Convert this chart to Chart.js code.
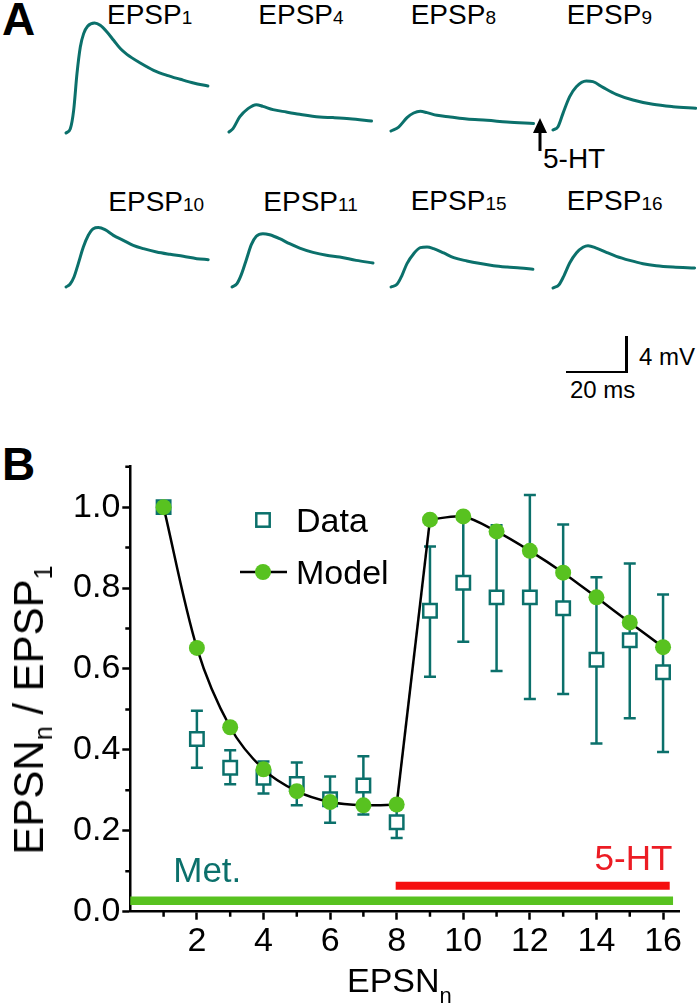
<!DOCTYPE html>
<html>
<head>
<meta charset="utf-8">
<title>EPSP depression and 5-HT</title>
<script src="https://cdn.jsdelivr.net/npm/chart.js@4.4.1/dist/chart.umd.min.js"></script>
<style>
  body { margin: 0; background: #fff; }
  #fig { position: relative; width: 698px; height: 1006px; overflow: hidden;
         font-family: "Liberation Sans", Arial, Helvetica, sans-serif; color: #000; }
  .txt { position: absolute; line-height: 1; white-space: nowrap; }
  .txt span { line-height: 0; }
  .panel { font-weight: bold; font-size: 46px; }
  .epsp { font-size: 28px; }
  .epsp span { font-size: 19px; }
  canvas { position: absolute; }
  .sbar { position: absolute; background: #000; }
</style>
</head>
<body>
<div id="fig">
  <div class="txt panel" style="left:2px;top:-4px">A</div>
  <div class="txt panel" style="left:2px;top:441px">B</div>

  <!-- 5-HT arrow -->
  <svg style="position:absolute;left:530px;top:115px" width="20" height="40">
    <polygon points="10,3 3,18 17,18" fill="#000"/>
    <line x1="10" y1="17" x2="10" y2="36" stroke="#000" stroke-width="3"/>
  </svg>
  <div class="txt" style="left:543px;top:145px;font-size:28px">5-HT</div>

  <!-- scale bar -->
  <div class="sbar" style="left:566px;top:370.5px;width:61.5px;height:2.6px"></div>
  <div class="sbar" style="left:625px;top:335.5px;width:2.6px;height:37.6px"></div>
  <div class="txt" style="left:639px;top:344.5px;font-size:24px">4 mV</div>
  <div class="txt" style="left:570px;top:377.5px;font-size:24px">20 ms</div>

  <canvas id="chartB" width="698" height="566" style="left:0;top:440px"></canvas>

  <div class="txt" style="left:347px;top:963px;font-size:34px">EPSN<span style="font-size:22px;vertical-align:-11px">n</span></div>
  <div class="txt" style="left:29px;top:710px;font-size:42px;transform:translate(-50%,-50%) rotate(-90deg)">EPSN<span style="font-size:25px;vertical-align:-9px">n</span> / EPSP<span style="font-size:25px;vertical-align:-9px">1</span></div>
</div>

<script>
// ---- panel A: EPSP traces (time in ms, amplitude in mV above baseline)
const traceNames = ['1', '4', '8', '9', '10', '11', '15', '16'];
const t_epsp1 = [0, 1.44, 2.55, 3.66, 4.77, 5.88, 7.2, 9.53, 11.4, 13.66, 15.88, 18.1, 20.3, 24.77, 29.2, 33.66, 38.1, 42.5, 47.3];
const v_epsp1 = [0, 0.48, 2.52, 6.6, 9.56, 11.04, 11.86, 12.22, 11.97, 11.22, 10.3, 9.38, 8.74, 7.78, 6.97, 6.41, 5.97, 5.56, 5.22];
const t_epsp4 = [0, 1.33, 3.56, 6.33, 9.1, 11.3, 14.66, 19.1, 23.56, 30.2, 34.66, 40.2, 47.5];
const v_epsp4 = [0, 0.37, 1.67, 2.6, 3.04, 2.85, 2.49, 2.22, 1.97, 1.67, 1.6, 1.48, 1.22];
const t_epsp8 = [0, 2.55, 5.33, 7.55, 9.77, 12, 15.33, 19.77, 25.3, 32, 38.66, 47.5];
const v_epsp8 = [0, 0.44, 1.48, 2.0, 2.19, 2.04, 1.74, 1.56, 1.33, 1.19, 1.0, 0.82];
const t_epsp9 = [0, 1.67, 3.33, 5.56, 7.78, 11.1, 13.3, 16.66, 21.1, 26.66, 33.3, 40, 47.6];
const v_epsp9 = [0, 0.37, 1.85, 3.7, 4.81, 5.44, 5.37, 4.74, 3.96, 3.33, 2.85, 2.59, 2.41];
const t_epsp10 = [0, 1.33, 2.67, 4.1, 5.78, 7.44, 9.1, 10.78, 13, 15.8, 19.1, 22.4, 25.8, 30.2, 34.7, 39.1, 43.6, 47.4];
const v_epsp10 = [0, 0.3, 1.11, 2.6, 4.44, 5.74, 6.48, 6.6, 6.37, 5.74, 5.19, 4.63, 4.26, 3.89, 3.63, 3.41, 3.15, 3.04];
const t_epsp11 = [0, 1.67, 3.1, 4.78, 6.44, 8.1, 10.3, 12.56, 15.9, 19.2, 22.56, 27, 31.5, 35.9, 41.4, 47];
const v_epsp11 = [0, 0.37, 1.37, 3.03, 4.7, 5.63, 5.93, 5.81, 5.37, 4.81, 4.33, 3.85, 3.52, 3.33, 2.96, 2.67];
const t_epsp15 = [0, 2.0, 3.67, 5.33, 7.56, 9.78, 12, 14.2, 17.56, 20.9, 25.3, 29.8, 34.2, 38.7, 43.1, 47.3];
const v_epsp15 = [0, 0.3, 1.3, 2.6, 3.7, 4.37, 4.44, 4.26, 3.78, 3.26, 2.89, 2.6, 2.37, 2.22, 2.11, 1.97];
const t_epsp16 = [0, 2.0, 3.56, 5.56, 7.78, 10, 11.67, 14.44, 17.78, 21.1, 25.56, 30, 34.4, 40, 47.2];
const v_epsp16 = [0, 0.37, 1.3, 2.78, 3.89, 4.52, 4.7, 4.44, 3.96, 3.52, 3.07, 2.7, 2.48, 2.33, 2.22];

// ---- panel B: normalised EPSP amplitude
const epsn = [1, 2, 3, 4, 5, 6, 7, 8, 9, 10, 11, 12, 13, 14, 15, 16];
const dataMean = [1.0, 0.427, 0.356, 0.331, 0.316, 0.278, 0.312, 0.221, 0.744, 0.813, 0.777, 0.777, 0.75, 0.623, 0.671, 0.592];
const dataLow  = [1.0, 0.356, 0.315, 0.292, 0.263, 0.22, 0.24, 0.182, 0.581, 0.667, 0.595, 0.526, 0.538, 0.416, 0.478, 0.395];
const dataHigh = [1.0, 0.497, 0.399, 0.371, 0.369, 0.334, 0.384, 0.26, 0.903, 0.97, 0.955, 1.03, 0.957, 0.827, 0.861, 0.784];
const modelVals = [1.0, 0.652, 0.456, 0.352, 0.298, 0.271, 0.263, 0.265, 0.969, 0.977, 0.94, 0.892, 0.838, 0.777, 0.715, 0.654];
const metRange = [0, 16.3];   // metergoline applied (EPSN)
const htRange = [7.97, 16.2]; // 5-HT applied (EPSN)
const xTickLabels = [2, 4, 6, 8, 10, 12, 14, 16];
const yTickLabels = [0, 0.2, 0.4, 0.6, 0.8, 1.0];

const teal = '#0b706b';
const green = '#58c220';
const red = '#f50f0f';
const FONT = '"Liberation Sans", Arial, Helvetica, sans-serif';
Chart.defaults.font.family = FONT;
Chart.defaults.color = '#000';

const fig = document.getElementById('fig');
const traceT = [t_epsp1, t_epsp4, t_epsp8, t_epsp9, t_epsp10, t_epsp11, t_epsp15, t_epsp16];
const traceV = [v_epsp1, v_epsp4, v_epsp8, v_epsp9, v_epsp10, v_epsp11, v_epsp15, v_epsp16];
// where each trace starts on the page (px) and where its label sits
const traceLeft = [65.7, 229.3, 390.7, 553.3, 66, 232.3, 390.7, 553.3];
const traceBase = [132.7, 131.7, 130.7, 130, 286.7, 287.3, 286.7, 288.3];
const labelLeft = [107, 258.3, 410.7, 566.7, 108.3, 263.3, 410.7, 566.7];
const labelTop  = [1, 1, 0.5, 0.5, 187.5, 187.5, 187, 187];

for (let i = 0; i < traceNames.length; i++) {
  let lab = document.createElement('div');
  lab.className = 'txt epsp';
  lab.style.left = labelLeft[i] + 'px';
  lab.style.top = labelTop[i] + 'px';
  lab.innerHTML = 'EPSP<span>' + traceNames[i] + '</span>';
  fig.appendChild(lab);

  let cv = document.createElement('canvas');
  cv.width = 150; cv.height = 144;
  cv.style.left = (traceLeft[i] - 6) + 'px';
  cv.style.top = (traceBase[i] - 135) + 'px';
  fig.appendChild(cv);
  new Chart(cv, {
    type: 'line',
    data: {
      datasets: [{
        data: traceT[i].map((t, k) => ({x: t, y: traceV[i][k]})),
        borderColor: teal,
        borderWidth: 3,
        borderJoinStyle: 'round',
        borderCapStyle: 'round',
        pointRadius: 0,
        cubicInterpolationMode: 'monotone',
        clip: false
      }]
    },
    options: {
      responsive: false, animation: false, events: [],
      layout: {padding: 0, autoPadding: false},
      plugins: {legend: {display: false}, tooltip: {enabled: false}},
      scales: {
        // 3 px per ms, 9 px per mV (same as the 20 ms / 4 mV bar)
        x: {type: 'linear', min: -2, max: 48, display: false},
        y: {min: -1, max: 15, display: false}
      }
    }
  });
}

// error bars, minor ticks, legend and drug labels
const extras = {
  id: 'extras',
  beforeDatasetDraw(chart, args) {
    if (chart.data.datasets[args.index].label !== 'Data') return;
    const ctx = chart.ctx, xS = chart.scales.x, yS = chart.scales.y;
    ctx.save();
    ctx.strokeStyle = teal;
    ctx.lineWidth = 2.5;
    for (let i = 0; i < epsn.length; i++) {
      if (dataHigh[i] === dataLow[i]) continue;
      let px = xS.getPixelForValue(epsn[i]);
      let lo = yS.getPixelForValue(dataLow[i]);
      let hi = yS.getPixelForValue(dataHigh[i]);
      ctx.beginPath();
      ctx.moveTo(px, lo); ctx.lineTo(px, hi);
      ctx.moveTo(px - 6, lo); ctx.lineTo(px + 6, lo);
      ctx.moveTo(px - 6, hi); ctx.lineTo(px + 6, hi);
      ctx.stroke();
    }
    ctx.restore();
  },
  afterDraw(chart) {
    const ctx = chart.ctx, xS = chart.scales.x, yS = chart.scales.y, a = chart.chartArea;
    ctx.save();
    // minor ticks
    ctx.strokeStyle = '#000';
    ctx.lineWidth = 2.5;
    ctx.beginPath();
    for (let v = 1; v < 16.5; v += 2) {
      let px = xS.getPixelForValue(v);
      ctx.moveTo(px, a.bottom); ctx.lineTo(px, a.bottom + 5);
    }
    for (let k = 1; k <= 11; k += 2) {
      let py = yS.getPixelForValue(k / 10);
      ctx.moveTo(a.left, py); ctx.lineTo(a.left - 5, py);
    }
    ctx.stroke();

    // drug labels
    ctx.font = '35px ' + FONT;
    ctx.textBaseline = 'alphabetic';
    ctx.fillStyle = teal;
    ctx.textAlign = 'left';
    ctx.fillText('Met.', xS.getPixelForValue(1.29), yS.getPixelForValue(0.074));
    ctx.fillStyle = '#ec1c24';
    ctx.textAlign = 'right';
    ctx.fillText('5-HT', xS.getPixelForValue(16.28), yS.getPixelForValue(0.103));

    // legend
    ctx.textAlign = 'left';
    ctx.fillStyle = '#000';
    ctx.font = '34px ' + FONT;
    ctx.fillText('Data', 296, 92);
    ctx.fillText('Model', 296, 144);
    ctx.fillStyle = '#fff';
    ctx.strokeStyle = teal;
    ctx.lineWidth = 2.5;
    ctx.fillRect(256.3, 73.3, 13.4, 13.4);
    ctx.strokeRect(256.3, 73.3, 13.4, 13.4);
    ctx.strokeStyle = '#000';
    ctx.beginPath();
    ctx.moveTo(240, 132); ctx.lineTo(287, 132);
    ctx.stroke();
    ctx.fillStyle = green;
    ctx.beginPath();
    ctx.arc(263, 132, 8, 0, Math.PI * 2);
    ctx.fill();
    ctx.restore();
  }
};

// model curve: smooth before and after the 5-HT step, straight jump from 8 to 9
function modelPart(from, to, tension) {
  return {
    label: 'Model curve',
    data: epsn.slice(from, to).map((n, k) => ({x: n, y: modelVals[from + k]})),
    borderColor: '#000',
    borderWidth: 2.5,
    pointRadius: 0,
    tension: tension,
    order: 1
  };
}

new Chart(document.getElementById('chartB'), {
  type: 'line',
  data: {
    datasets: [{
      label: 'Model',
      data: epsn.map((n, i) => ({x: n, y: modelVals[i]})),
      showLine: false,
      pointRadius: 8,
      pointBackgroundColor: green,
      pointBorderColor: green,
      pointBorderWidth: 0,
      order: 0
    },
    modelPart(0, 8, 0.3),
    modelPart(7, 9, 0),
    modelPart(8, 16, 0.3),
    {
      label: 'Data',
      data: epsn.map((n, i) => ({x: n, y: dataMean[i]})),
      showLine: false,
      pointStyle: 'rect',
      pointRadius: 9.5,
      pointBackgroundColor: '#fff',
      pointBorderColor: teal,
      pointBorderWidth: 2.5,
      order: 2
    }, {
      label: 'Met.',
      data: metRange.map(n => ({x: n, y: 0.027})),
      borderColor: green,
      borderWidth: 8.5,
      borderCapStyle: 'butt',
      pointRadius: 0,
      clip: 10,
      order: 3
    }, {
      label: '5-HT',
      data: htRange.map(n => ({x: n, y: 0.064})),
      borderColor: red,
      borderWidth: 8,
      borderCapStyle: 'butt',
      pointRadius: 0,
      order: 4
    }]
  },
  options: {
    responsive: false, animation: false, events: [],
    layout: {padding: {top: 26.7, right: 18.3, left: 0, bottom: 0}},
    plugins: {legend: {display: false}, tooltip: {enabled: false}},
    scales: {
      x: {
        type: 'linear', min: 0, max: 16.5,
        afterFit(s) { s.height = 94.3; },
        ticks: {
          stepSize: 1, includeBounds: false, autoSkip: false, maxRotation: 0, padding: 2,
          font: {size: 34},
          callback: v => xTickLabels.includes(v) ? String(v) : ''
        },
        grid: {
          drawOnChartArea: false, tickLength: 8, tickWidth: 2.5,
          tickColor: c => (c.tick && xTickLabels.includes(c.tick.value)) ? '#000' : 'rgba(0,0,0,0)'
        },
        border: {color: '#000', width: 2.5}
      },
      y: {
        min: 0, max: 1.1,
        afterFit(s) { s.width = 130.3; },
        ticks: {
          stepSize: 0.1, includeBounds: false, padding: 2,
          font: {size: 34},
          callback: v => yTickLabels.some(t => Math.abs(t - v) < 1e-6) ? v.toFixed(1) : ''
        },
        grid: {
          drawOnChartArea: false, tickLength: 8, tickWidth: 2.5,
          tickColor: c => (c.tick && yTickLabels.some(t => Math.abs(t - c.tick.value) < 1e-6)) ? '#000' : 'rgba(0,0,0,0)'
        },
        border: {color: '#000', width: 2.5}
      }
    }
  },
  plugins: [extras]
});
</script>
</body>
</html>
